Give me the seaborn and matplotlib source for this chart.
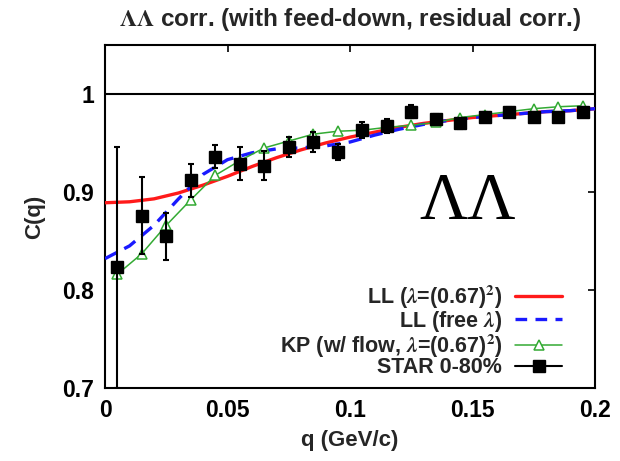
import numpy as np
import pandas as pd
import seaborn as sns
import matplotlib
matplotlib.use("Agg")
import matplotlib.pyplot as plt
from matplotlib.lines import Line2D

# ---------------- data ----------------
q_curve = [0.00, 0.01, 0.02, 0.03, 0.04, 0.05, 0.06, 0.07, 0.08, 0.09, 0.10,
           0.11, 0.12, 0.13, 0.14, 0.15, 0.16, 0.17, 0.18, 0.19, 0.20]
ll_fixed = [0.889, 0.890, 0.893, 0.899, 0.907, 0.916, 0.926, 0.935, 0.943, 0.950, 0.956,
            0.961, 0.966, 0.970, 0.973, 0.976, 0.978, 0.980, 0.982, 0.983, 0.985]
ll_free = [0.832, 0.845, 0.866, 0.893, 0.918, 0.933, 0.940, 0.944, 0.945, 0.947, 0.951,
           0.958, 0.964, 0.969, 0.973, 0.976, 0.978, 0.980, 0.982, 0.983, 0.985]

q_pts = [0.005, 0.015, 0.025, 0.035, 0.045, 0.055, 0.065, 0.075, 0.085, 0.095,
         0.105, 0.115, 0.125, 0.135, 0.145, 0.155, 0.165, 0.175, 0.185, 0.195]
kp_flow = [0.816, 0.837, 0.866, 0.892, 0.917, 0.932, 0.945, 0.952, 0.959, 0.962,
           0.963, 0.966, 0.968, 0.971, 0.976, 0.979, 0.982, 0.985, 0.987, 0.988]
star = [0.823, 0.876, 0.855, 0.912, 0.936, 0.929, 0.927, 0.946, 0.951, 0.941,
        0.963, 0.967, 0.982, 0.974, 0.970, 0.977, 0.982, 0.977, 0.977, 0.982]
star_err = [0.123, 0.039, 0.024, 0.017, 0.012, 0.017, 0.015, 0.010, 0.010, 0.008,
            0.008, 0.007, 0.007, 0.006, 0.006, 0.005, 0.005, 0.005, 0.005, 0.005]

labels = [r"LL ($\lambda$=(0.67)$^{\mathbf{2}}$)", r"LL (free $\lambda$)",
          r"KP (w/ flow, $\lambda$=(0.67)$^{\mathbf{2}}$)", "STAR 0-80%"]
x_ticks = [0, 0.05, 0.1, 0.15, 0.2]
x_ticklabels = ["0", "0.05", "0.1", "0.15", "0.2"]
y_ticks = [0.7, 0.8, 0.9, 1.0]
y_ticklabels = ["0.7", "0.8", "0.9", "1"]

# ---------------- style ----------------
sns.set_theme(style="white")
plt.rcParams["font.family"] = ["Liberation Sans", "DejaVu Sans"]
plt.rcParams["font.weight"] = "bold"
plt.rcParams["mathtext.fontset"] = "stix"
plt.rcParams["axes.labelweight"] = "bold"

RED = "#ff1a1a"
BLUE = "#1a1aff"
GREEN = "#33aa33"

fig = plt.figure(figsize=(6.2, 4.61), dpi=100)
ax = fig.add_axes([0.1694, 0.1584, 0.7903, 0.7440])

df_curve = pd.DataFrame({"q": q_curve, "fixed": ll_fixed, "free": ll_free})
df_pts = pd.DataFrame({"q": q_pts, "kp": kp_flow, "star": star, "err": star_err})

sns.lineplot(data=df_curve, x="q", y="fixed", ax=ax, color=RED, lw=2.4, zorder=3)
sns.lineplot(data=df_curve, x="q", y="free", ax=ax, color=BLUE, lw=2.4,
             dashes=False, zorder=4)
ax.lines[-1].set_dashes([4, 2.5])
sns.lineplot(data=df_pts, x="q", y="kp", ax=ax, color=GREEN, lw=1.1,
             marker="^", markersize=7, markerfacecolor="white",
             markeredgecolor=GREEN, markeredgewidth=1.1, zorder=5)
ax.errorbar(df_pts["q"], df_pts["star"], yerr=df_pts["err"], fmt="s",
            color="black", ms=8, elinewidth=1.5, capsize=2.5, capthick=1.5,
            zorder=6)

ax.axhline(1.0, color="black", lw=1.5, zorder=2)

ax.set_xlim(0, 0.2)
ax.set_ylim(0.7, 1.05)
ax.set_xticks(x_ticks)
ax.set_xticklabels(x_ticklabels)
ax.set_yticks(y_ticks)
ax.set_yticklabels(y_ticklabels)
ax.tick_params(direction="in", length=5, width=1.2, top=True, right=True,
               labelsize=16.5, pad=8, colors="black")
for lab in ax.get_xticklabels() + ax.get_yticklabels():
    lab.set_fontweight("bold")
for s in ax.spines.values():
    s.set_linewidth(1.5)
    s.set_color("black")

ax.set_xlabel("q (GeV/c)", fontsize=16, fontweight="bold", labelpad=6)
ax.set_ylabel("C(q)", fontsize=16, fontweight="bold", labelpad=12)
ax.set_title(r"$\Lambda\Lambda$ corr. (with feed-down, residual corr.)",
             fontsize=17.5, fontweight="bold", pad=14)

ax.text(0.74, 0.54, "ΛΛ", transform=ax.transAxes, fontsize=48,
        family=["Liberation Serif", "DejaVu Serif"], fontweight="normal",
        ha="center", va="center", color="black")

handles = [
    Line2D([], [], color=RED, lw=2.4),
    Line2D([], [], color=BLUE, lw=2.4, dashes=[3.5, 2.5]),
    Line2D([], [], color=GREEN, lw=1.1, marker="^", markersize=7,
           markerfacecolor="white", markeredgecolor=GREEN, markeredgewidth=1.1),
    Line2D([], [], color="black", lw=1.5, marker="s", markersize=8),
]
leg = ax.legend(handles, labels, loc="lower right", bbox_to_anchor=(0.96, -0.01),
                frameon=False, markerfirst=False, fontsize=15.5,
                handlelength=2.2, handletextpad=0.6, labelspacing=-0.1,
                borderaxespad=0.2)
for t in leg.get_texts():
    t.set_fontweight("bold")
    t.set_ha("right")

fig.savefig("out.png", dpi=100)
